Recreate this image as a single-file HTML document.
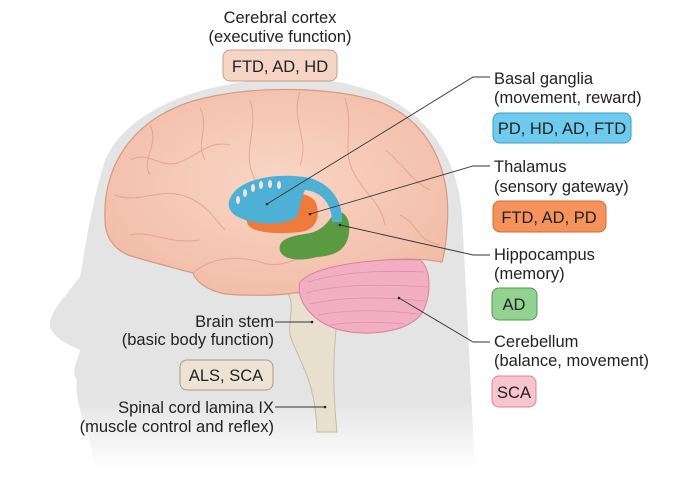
<!DOCTYPE html>
<html><head><meta charset="utf-8"><style>
body{margin:0;background:#fff;}
svg{display:block;font-family:"Liberation Sans",sans-serif;}
text{font-size:16.5px;fill:#222;}
</style></head><body>
<svg width="680" height="491" viewBox="0 0 680 491">
<defs>
<linearGradient id="fade" x1="0" y1="0" x2="0" y2="1">
<stop offset="0.82" stop-color="#e4e4e4"/><stop offset="1" stop-color="#ffffff"/>
</linearGradient>
<radialGradient id="br" cx="0.5" cy="0.45" r="0.6">
<stop offset="0" stop-color="#f9d6c6"/><stop offset="1" stop-color="#f2bca6"/>
</radialGradient>
</defs>
<!-- head silhouette -->
<path d="M105,160 C130,105 210,80 290,78 C390,78 455,125 462,215 C466,290 470,370 475,470 L95,470 C90,445 88,432 85,427 C80,410 75,395 77,380 C70,372 78,360 80,350 C70,345 55,340 50,327 C48,315 62,300 70,290 C75,282 80,278 80,277 C85,250 90,210 105,160 Z" fill="url(#fade)"/>
<!-- brain stem -->
<path d="M288,293 C295,305 288,320 290,335 C298,360 316,380 317,432 L337,432 C333,395 333,360 336,330 L333,293 Z" fill="#e9dfcf" stroke="#c9b9a3" stroke-width="1"/>
<!-- brain -->
<path d="M105,220 C102,160 140,112 205,98 C255,86 330,86 380,102 C430,122 452,170 447,228 C446,245 444,255 442,262 C420,258 395,258 370,262 C345,268 320,285 300,292 C280,296 250,296 225,294 C205,290 195,280 193,273 C175,268 150,262 128,255 C112,248 105,235 105,220 Z" fill="url(#br)" stroke="#d39a84" stroke-width="1.2"/>
<g fill="none" stroke="#dda08c" stroke-width="1" opacity="0.8">
<path d="M130,160 C150,150 160,170 180,162 C200,154 210,140 230,145"/>
<path d="M250,100 C260,130 240,150 255,180"/>
<path d="M300,92 C290,120 310,140 300,165"/>
<path d="M345,98 C355,130 340,150 355,175 C365,195 380,200 385,225"/>
<path d="M115,195 C140,205 160,185 190,198 C210,208 215,220 225,230"/>
<path d="M130,235 C150,230 170,245 200,240"/>
<path d="M385,150 C400,160 410,180 430,190"/>
<path d="M400,215 C420,225 415,240 440,245"/>
<path d="M193,273 C210,258 235,255 260,262 C275,268 290,262 300,258"/>
<path d="M150,125 C160,145 140,160 150,175"/>
<path d="M200,108 C210,128 195,142 205,160"/>
</g>
<!-- cerebellum -->
<path d="M300,282 C315,265 375,258 420,260 C432,268 432,300 420,316 C402,334 365,336 340,330 C312,322 295,300 300,282 Z" fill="#f2afc4" stroke="#d97fa0" stroke-width="1"/>
<g fill="none" stroke="#d97fa0" stroke-width="0.8" opacity="0.7">
<path d="M308,282 C340,272 380,270 424,272"/><path d="M306,293 C340,284 380,284 428,287"/>
<path d="M310,304 C345,296 385,297 426,301"/><path d="M318,315 C350,309 385,310 418,314"/>
<path d="M330,325 C355,321 380,322 405,324"/>
</g>
<!-- green hippocampus -->
<path d="M335,212 C347,210 352,223 348,238 C344,252 332,256 317,257 C302,261 284,261 280,251 C277,239 292,236 305,234 C322,232 328,222 335,212 Z" fill="#5a9a40"/>
<!-- orange thalamus -->
<path d="M255,198 C275,191 305,189 315,201 C321,213 318,230 300,232 C280,234 255,234 248,225 C244,215 246,205 255,198 Z" fill="#f07a3a"/>
<!-- blue basal ganglia -->
<path d="M232,195 C242,178 280,172 310,178 C330,184 343,200 342,222 L332,222 C332,205 323,192 305,190 C300,200 300,212 296,218 C280,226 255,226 236,216 C227,210 227,202 232,195 Z" fill="#4fb0d6"/>
<g fill="#f6e2d8"><ellipse cx="238" cy="200" rx="2" ry="4"/><ellipse cx="245" cy="193" rx="2" ry="4"/><ellipse cx="253" cy="188" rx="2" ry="4"/><ellipse cx="261" cy="185" rx="2" ry="4"/><ellipse cx="270" cy="184" rx="2" ry="4"/><ellipse cx="279" cy="185" rx="2" ry="4"/></g>
<!-- leader lines -->
<g stroke="#333" stroke-width="0.9" fill="none">
<path d="M267,204 L473,77 L490,77"/>
<path d="M310,214 L473,166 L490,166"/>
<path d="M340,225 L473,255 L490,255"/>
<path d="M399,298 L473,342 L490,342"/>
<path d="M275,322 L312,322"/>
<path d="M275,407 L325,407"/>
</g>
<g fill="#222"><circle cx="267" cy="204" r="1.3"/><circle cx="310" cy="214" r="1.3"/><circle cx="340" cy="225" r="1.3"/><circle cx="399" cy="298" r="1.3"/><circle cx="312" cy="322" r="1.3"/><circle cx="325" cy="407" r="1.3"/></g>
<!-- labels -->
<text x="280" y="23" text-anchor="middle">Cerebral cortex</text>
<text x="280" y="42" text-anchor="middle">(executive function)</text>
<rect x="223" y="50" width="114" height="31" rx="7" fill="#f5d4c6" stroke="#c99b89"/>
<text x="280" y="72" text-anchor="middle">FTD, AD, HD</text>

<text x="494" y="84">Basal ganglia</text>
<text x="494" y="103">(movement, reward)</text>
<rect x="493" y="113" width="138" height="30" rx="7" fill="#6fcbed" stroke="#3a9ac4"/>
<text x="562" y="134" text-anchor="middle">PD, HD, AD, FTD</text>

<text x="494" y="172">Thalamus</text>
<text x="494" y="192">(sensory gateway)</text>
<rect x="493" y="201" width="113" height="31" rx="7" fill="#f6935d" stroke="#d06a35"/>
<text x="549" y="223" text-anchor="middle">FTD, AD, PD</text>

<text x="494" y="260">Hippocampus</text>
<text x="494" y="279">(memory)</text>
<rect x="492" y="288" width="45" height="32" rx="7" fill="#93d392" stroke="#4f9a4f"/>
<text x="514" y="310" text-anchor="middle">AD</text>

<text x="494" y="347">Cerebellum</text>
<text x="494" y="366">(balance, movement)</text>
<rect x="492" y="376" width="44" height="31" rx="7" fill="#f7c4d0" stroke="#d9859c"/>
<text x="514" y="398" text-anchor="middle">SCA</text>

<text x="274" y="327" text-anchor="end">Brain stem</text>
<text x="274" y="345" text-anchor="end">(basic body function)</text>
<rect x="180" y="360" width="93" height="30" rx="7" fill="#ede3d4" stroke="#a89a86"/>
<text x="226" y="381" text-anchor="middle">ALS, SCA</text>
<text x="274" y="413" text-anchor="end">Spinal cord lamina IX</text>
<text x="274" y="432" text-anchor="end">(muscle control and reflex)</text>
</svg>
</body></html>
